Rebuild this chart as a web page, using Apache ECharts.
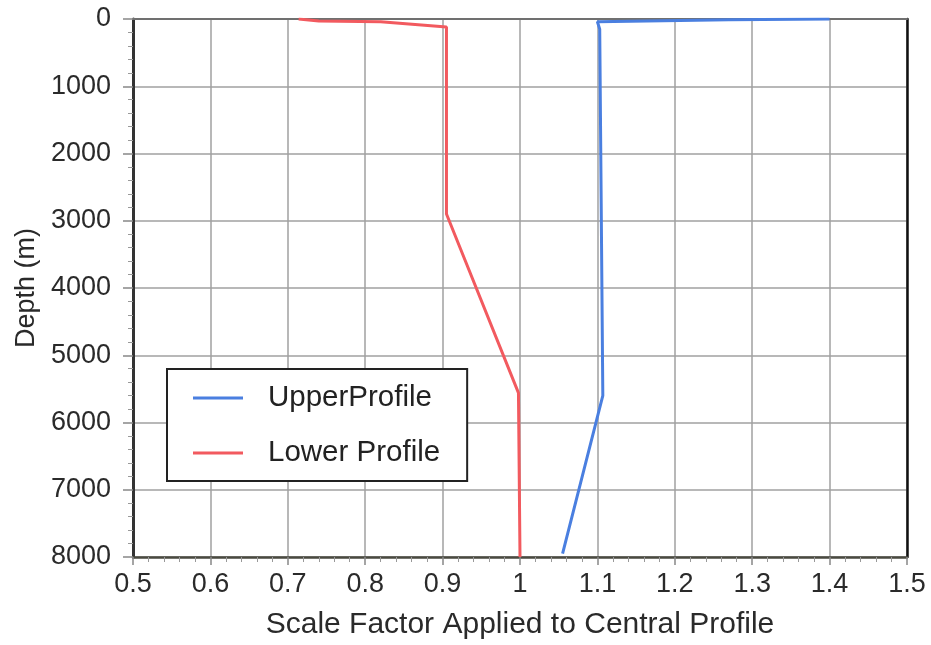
<!DOCTYPE html>
<html>
<head>
<meta charset="utf-8">
<script src="https://cdn.jsdelivr.net/npm/echarts@6/dist/echarts.min.js"></script>
<style>html,body{margin:0;padding:0;background:#fff}#c{width:931px;height:645px}</style>
</head>
<body>
<div id="c"></div>
<script>
// ---- data ----
var upperDepth = [0, 10, 40, 150, 5600, 7950];
var upperScale = [1.40, 1.27, 1.10, 1.103, 1.107, 1.055];
var lowerDepth = [0, 30, 40, 120, 2900, 5560, 8000];
var lowerScale = [0.714, 0.74, 0.82, 0.905, 0.905, 0.998, 1.0];
var xTicks = ['0.5','0.6','0.7','0.8','0.9','1','1.1','1.2','1.3','1.4','1.5'];
var yTicks = ['0','1000','2000','3000','4000','5000','6000','7000','8000'];
var seriesNames = ['UpperProfile', 'Lower Profile'];

function pairs(xs, ys){ return xs.map(function(v,i){ return [v, ys[i]]; }); }

var font = 'Liberation Sans, Arial, Helvetica, sans-serif';
var chart = echarts.init(document.getElementById('c'));
chart.setOption({
  animation: false,
  backgroundColor: '#fff',
  grid: {left: 133, top: 19, right: 24, bottom: 88},
  legend: {
    data: seriesNames,
    orient: 'vertical',
    left: 167, top: 369,
    padding: [14, 27, 13, 26],
    itemGap: 25,
    itemWidth: 50, itemHeight: 3,
    icon: 'rect',
    backgroundColor: '#fff',
    borderColor: '#222', borderWidth: 2,
    textStyle: {fontFamily: font, fontSize: 29.5, color: '#222', padding: [0,0,0,20]}
  },
  xAxis: [{
    type: 'value', min: 0.5, max: 1.5, interval: 0.1,
    name: 'Scale Factor Applied to Central Profile',
    nameLocation: 'middle', nameGap: 53,
    nameTextStyle: {fontFamily: font, fontSize: 30, color: '#2a2a2a'},
    axisLine: {show: true, onZero: false, lineStyle: {color: '#4a4a40', width: 2.5}},
    axisTick: {show: true, length: 8, lineStyle: {color: '#888', width: 1.5}},
    minorTick: {show: true, splitNumber: 5, length: 5, lineStyle: {color: '#999', width: 1}},
    axisLabel: {fontFamily: font, fontSize: 27, color: '#2a2a2a', margin: 14,
      formatter: function(v){ var i = Math.round((v-0.5)*10); return xTicks[i]; }},
    splitLine: {show: true, lineStyle: {color: '#a0a0a0', width: 1.5}}
  }, {
    type: 'value', min: 0.5, max: 1.5, position: 'top',
    axisLine: {show: true, onZero: false, lineStyle: {color: '#707070', width: 2}},
    axisTick: {show: false}, axisLabel: {show: false}, splitLine: {show: false}
  }],
  yAxis: [{
    type: 'value', min: 0, max: 8000, interval: 1000, inverse: true,
    name: 'Depth (m)', nameLocation: 'middle', nameGap: 90, nameRotate: 90,
    nameTextStyle: {fontFamily: font, fontSize: 27, color: '#2a2a2a'},
    axisLine: {show: true, onZero: false, lineStyle: {color: '#333', width: 3}},
    axisTick: {show: true, length: 10, lineStyle: {color: '#888', width: 1.5}},
    minorTick: {show: true, splitNumber: 5, length: 5, lineStyle: {color: '#999', width: 1}},
    axisLabel: {fontFamily: font, fontSize: 27, color: '#2a2a2a', margin: 22,
      formatter: function(v){ return yTicks[Math.round(v/1000)]; }},
    splitLine: {show: true, lineStyle: {color: '#a0a0a0', width: 1.5}}
  }, {
    type: 'value', min: 0, max: 8000, inverse: true, position: 'right',
    axisLine: {show: true, onZero: false, lineStyle: {color: '#111', width: 2.5}},
    axisTick: {show: false}, axisLabel: {show: false}, splitLine: {show: false}
  }],
  series: [{
    name: seriesNames[0], type: 'line', symbol: 'none', showSymbol: false,
    xAxisIndex: 0, yAxisIndex: 0,
    data: pairs(upperScale, upperDepth),
    lineStyle: {color: '#4a7fe0', width: 3},
    itemStyle: {color: '#4a7fe0'}
  }, {
    name: seriesNames[1], type: 'line', symbol: 'none', showSymbol: false,
    xAxisIndex: 0, yAxisIndex: 0,
    data: pairs(lowerScale, lowerDepth),
    lineStyle: {color: '#f25a5f', width: 3},
    itemStyle: {color: '#f25a5f'}
  }]
});
</script>
</body>
</html>
